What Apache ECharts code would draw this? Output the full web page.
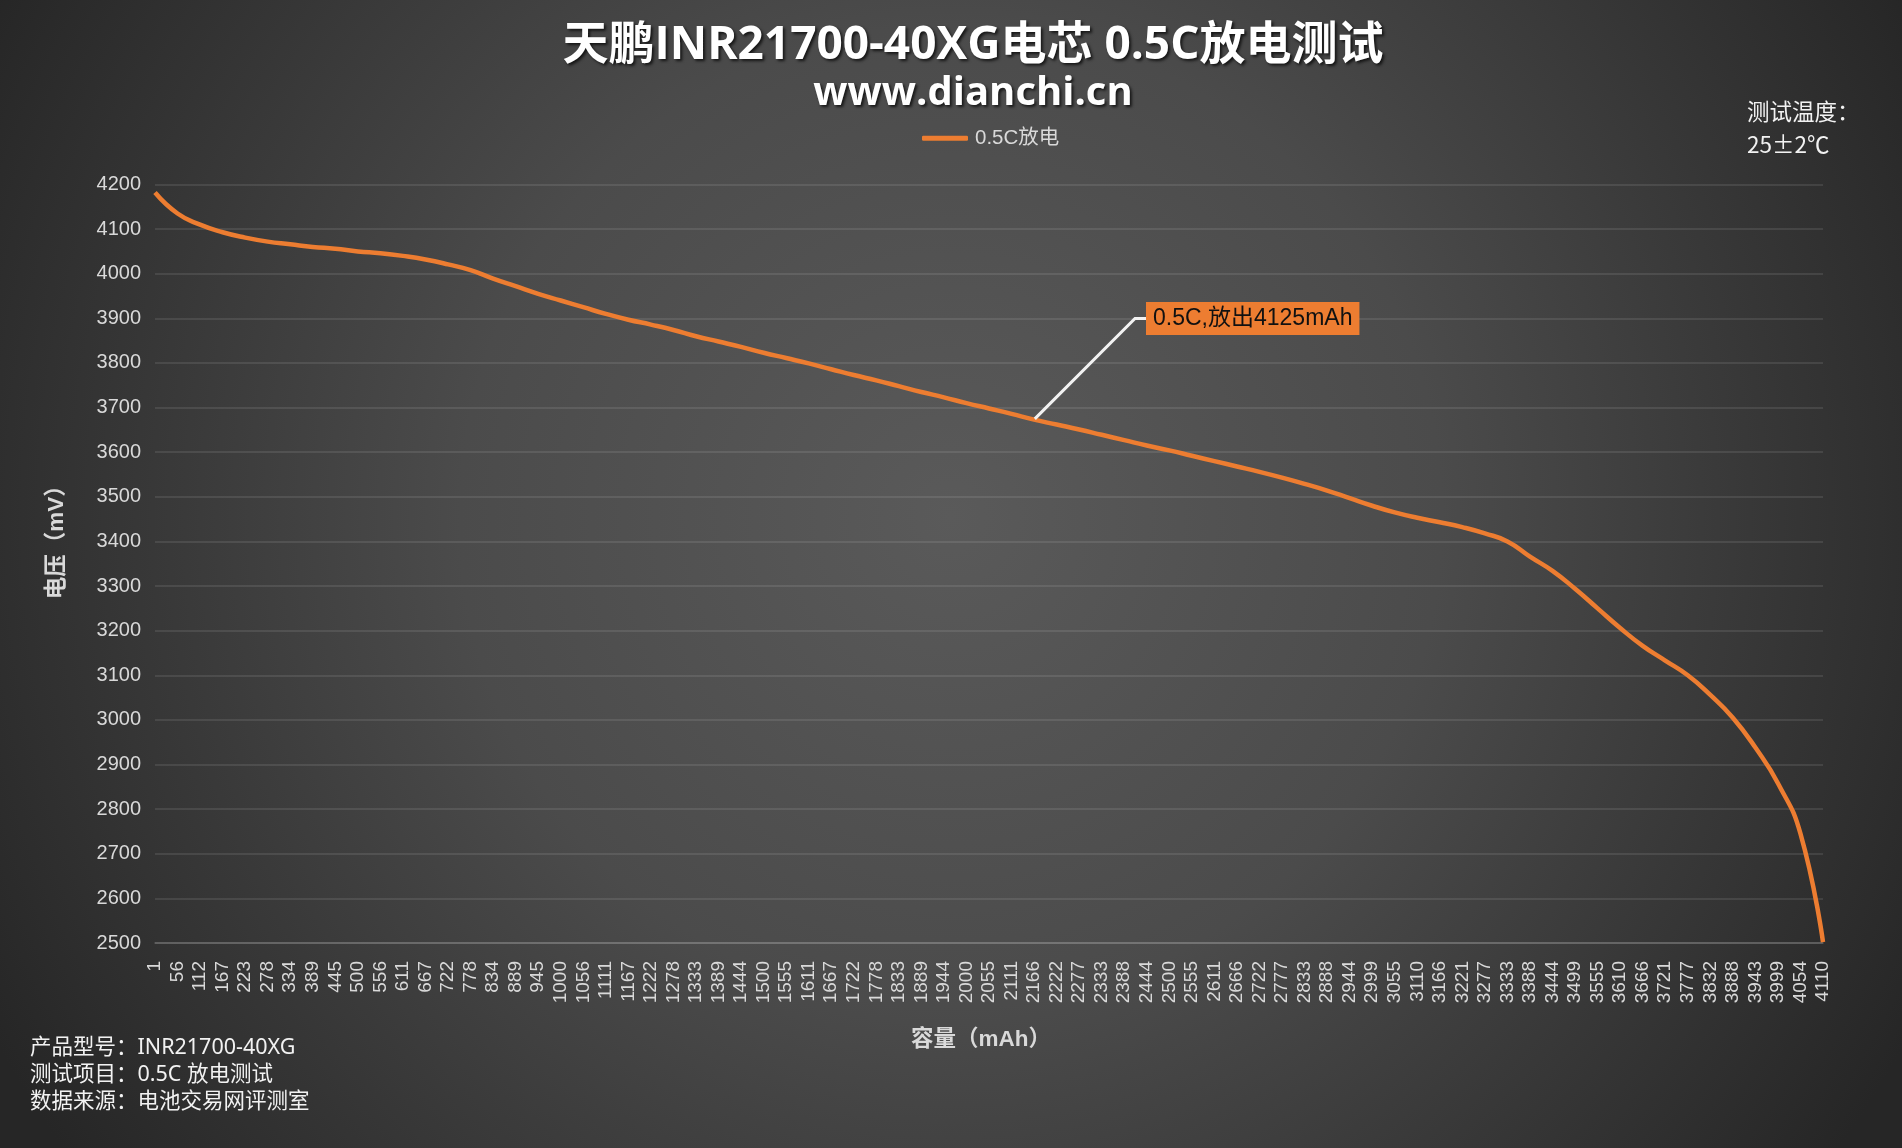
<!DOCTYPE html>
<html>
<head>
<meta charset="utf-8">
<script src="https://cdn.jsdelivr.net/npm/echarts@6/dist/echarts.min.js"></script>
<style>
html,body{margin:0;padding:0;background:#333;}
#chart{width:1902px;height:1148px;}
</style>
</head>
<body>
<div id="chart"></div>
<script>
// ---- data ----
const capacityLabels = ['1','56','112','167','223','278','334','389','445','500','556','611','667','722','778','834','889','945','1000','1056','1111','1167','1222','1278','1333','1389','1444','1500','1555','1611','1667','1722','1778','1833','1889','1944','2000','2055','2111','2166','2222','2277','2333','2388','2444','2500','2555','2611','2666','2722','2777','2833','2888','2944','2999','3055','3110','3166','3221','3277','3333','3388','3444','3499','3555','3610','3666','3721','3777','3832','3888','3943','3999','4054','4110'];
const voltage = [4182,4135,4110,4093,4081,4072,4066,4060,4056,4050,4046,4040,4032,4021,4008,3989,3972,3955,3940,3925,3910,3897,3886,3874,3860,3848,3836,3823,3811,3799,3786,3773,3761,3748,3735,3723,3710,3698,3686,3673,3662,3651,3639,3627,3615,3604,3592,3580,3568,3556,3543,3529,3514,3497,3480,3465,3453,3443,3432,3418,3400,3366,3334,3294,3250,3206,3166,3133,3100,3056,3005,2938,2858,2745,2502];
const seriesName = '0.5C放电';
const annotIndex = 39;
const annotText = '0.5C,放出4125mAh';
const yTicks = {min: 2500, max: 4200, interval: 100};
const titleText = '天鹏INR21700-40XG电芯 0.5C放电测试';
const subTitleText = 'www.dianchi.cn';
const tempLines = ['测试温度：', '25±2℃'];
const infoLines = ['产品型号：INR21700-40XG', '测试项目：0.5C 放电测试', '数据来源：电池交易网评测室'];

// ---- chart ----
const chart = echarts.init(document.getElementById('chart'), null, {renderer: 'canvas'});
const ORANGE = '#ED7D31';
const LABEL_C = '#d9d9d9';
const latinCJK = "'Liberation Sans', 'Noto Sans CJK SC', sans-serif";

const seriesData = voltage.map((v, i) => {
  if (i !== annotIndex) return v;
  return {
    value: v,
    symbol: 'circle',
    symbolSize: 2,
    itemStyle: {color: ORANGE},
    label: {
      show: true,
      position: 'right',
      formatter: annotText,
      backgroundColor: ORANGE,
      color: '#111',
      fontFamily: latinCJK,
      fontSize: 23,
      lineHeight: 25,
      padding: [4, 7, 4, 7]
    },
    labelLine: {show: true, length2: 11, lineStyle: {color: '#f2f2f2', width: 3}}
  };
});

const graphics = [];
tempLines.forEach((t, i) => {
  graphics.push({type: 'text', x: 1747, y: 111 + i * 33,
    style: {text: t, fill: '#f2f2f2', font: "22.5px 'Noto Sans CJK SC', sans-serif", verticalAlign: 'middle'}});
});
infoLines.forEach((t, i) => {
  graphics.push({type: 'text', x: 30, y: 1048 + i * 27,
    style: {text: t, fill: '#f2f2f2', font: "21.5px 'Noto Sans', 'Noto Sans CJK SC', sans-serif", verticalAlign: 'middle'}});
});

const option = {
  backgroundColor: {
    type: 'radial', x: 0.5, y: 0.45, r: 0.95,
    colorStops: [
      {offset: 0, color: '#5a5a5a'},
      {offset: 0.45, color: '#4b4b4b'},
      {offset: 1, color: '#262626'}
    ]
  },
  animation: false,
  title: [
    {text: titleText, left: 968, top: 18, textAlign: 'center',
      textStyle: {color: '#ffffff', fontSize: 46, fontWeight: 'bold', fontFamily: "'Open Sans', 'Noto Sans CJK SC', sans-serif",
        textShadowColor: 'rgba(0,0,0,0.7)', textShadowBlur: 3, textShadowOffsetX: 2, textShadowOffsetY: 2}},
    {text: subTitleText, left: 968, top: 69, textAlign: 'center',
      textStyle: {color: '#ffffff', fontSize: 40, fontWeight: 'bold', fontFamily: "'Open Sans', 'Noto Sans CJK SC', sans-serif",
        textShadowColor: 'rgba(0,0,0,0.7)', textShadowBlur: 3, textShadowOffsetX: 2, textShadowOffsetY: 2}}
  ],
  legend: {
    data: [{name: seriesName, icon: 'roundRect'}], left: 922, top: 128, padding: 0,
    itemWidth: 46, itemHeight: 5, itemGap: 10,
    textStyle: {color: LABEL_C, fontSize: 20.5, fontFamily: latinCJK, padding: [0, 0, 0, 2]}
  },
  grid: {left: 155, right: 79, top: 184.5, bottom: 205, containLabel: false},
  xAxis: {
    type: 'category', data: capacityLabels, boundaryGap: false,
    axisLine: {show: true, lineStyle: {color: 'rgba(255,255,255,0.2)', width: 1.5}},
    axisTick: {show: false},
    axisLabel: {rotate: 90, interval: 0, color: LABEL_C, fontSize: 19, fontFamily: 'Liberation Sans', margin: 18},
    splitLine: {show: false},
    name: '容量（mAh）', nameLocation: 'middle', nameGap: 86,
    nameTextStyle: {color: LABEL_C, fontSize: 22.5, fontWeight: 'bold', fontFamily: latinCJK, padding: [0, 16, 0, 0]}
  },
  yAxis: {
    type: 'value', min: yTicks.min, max: yTicks.max, interval: yTicks.interval,
    axisLine: {show: false}, axisTick: {show: false},
    axisLabel: {color: LABEL_C, fontSize: 20, fontFamily: 'Liberation Sans', margin: 14,
      formatter: function (v) { return String(v); }},
    splitLine: {lineStyle: {color: 'rgba(255,255,255,0.13)', width: 1.5}},
    name: '电压（mV）', nameLocation: 'middle', nameGap: 87,
    nameTextStyle: {color: LABEL_C, fontSize: 22.5, fontWeight: 'bold', fontFamily: latinCJK, padding: [0, 0, 0, 54]}
  },
  series: [{
    name: seriesName, type: 'line', data: seriesData,
    smooth: true, showSymbol: true, symbol: 'none',
    lineStyle: {color: ORANGE, width: 4.5},
    itemStyle: {color: ORANGE},
    labelLayout: function (p) {
      if (p.dataIndex === annotIndex) return {x: 1146, y: 302};
      return {};
    },
    z: 3
  }],
  graphic: graphics
};
chart.setOption(option);
</script>
</body>
</html>
